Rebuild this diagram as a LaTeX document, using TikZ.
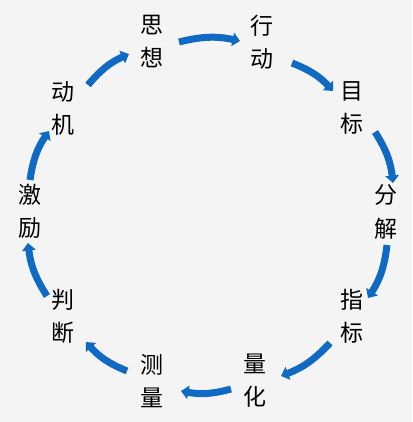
\documentclass[tikz,border=0pt]{standalone}
\usepackage{fontspec}
\newfontfamily\cjk{Noto Sans CJK SC}
\usetikzlibrary{arrows.meta}
\definecolor{bgc}{HTML}{F4F4F4}
\definecolor{arrc}{RGB}{16,106,196}
\tikzset{
  lbl/.style={align=center, inner sep=0pt, text=black, font=\cjk\fontsize{23}{33}\selectfont},
  arr/.style={draw=arrc, line width=7pt, -{Triangle[width=13.5pt,length=7.5pt]}, bend left=13}
}
\begin{document}
\begin{tikzpicture}[x=1pt,y=-1pt]
\fill[bgc] (0,0) rectangle (412,422);
\useasboundingbox (0,0) rectangle (412,422);
% labels
\node[lbl] (sx) at (152,42) {思\\想};
\node[lbl] (xd) at (262,42) {行\\动};
\node[lbl] (mb) at (352,108) {目\\标};
\node[lbl] (fj) at (386,212) {分\\解};
\node[lbl] (zb) at (352,316) {指\\标};
\node[lbl] (lh) at (255,381) {量\\化};
\node[lbl] (cl) at (152,381) {测\\量};
\node[lbl] (pd) at (63,316) {判\\断};
\node[lbl] (jl) at (30,211) {激\\励};
\node[lbl] (dj) at (63,108) {动\\机};
% arrow ends
\coordinate (s1) at (179,42);  \coordinate (e1) at (240,41);
\coordinate (s2) at (292,63);  \coordinate (e2) at (333,91);
\coordinate (s3) at (375,132); \coordinate (e3) at (393,183);
\coordinate (s4) at (387,245); \coordinate (e4) at (368,298);
\coordinate (s5) at (330,343); \coordinate (e5) at (281,376);
\coordinate (s6) at (231,389); \coordinate (e6) at (181,391);
\coordinate (s7) at (127,371); \coordinate (e7) at (86,342);
\coordinate (s8) at (47,296);  \coordinate (e8) at (28,243);
\coordinate (s9) at (30,180);  \coordinate (e9) at (49,131);
\coordinate (s10) at (88,85);  \coordinate (e10) at (129,54);
% arrows
\draw[arr] (s1) to (e1);
\draw[arr] (s2) to (e2);
\draw[arr] (s3) to (e3);
\draw[arr] (s4) to (e4);
\draw[arr] (s5) to (e5);
\draw[arr] (s6) to (e6);
\draw[arr] (s7) to (e7);
\draw[arr] (s8) to (e8);
\draw[arr] (s9) to (e9);
\draw[arr] (s10) to (e10);
\end{tikzpicture}
\end{document}
